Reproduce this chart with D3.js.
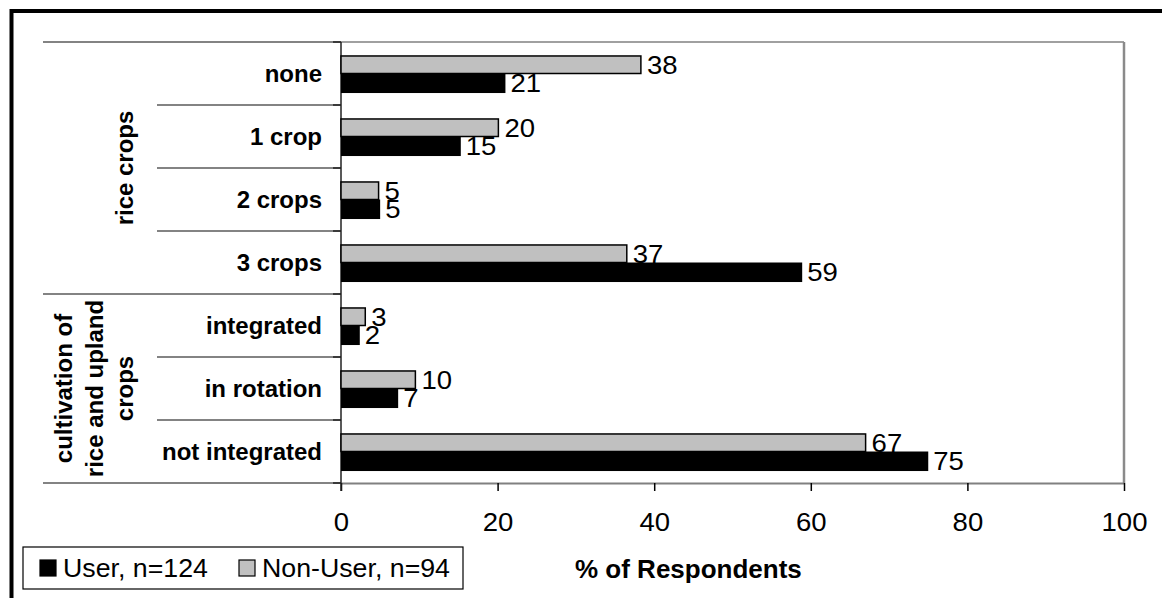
<!DOCTYPE html>
<html>
<head>
<meta charset="utf-8">
<script src="https://cdn.jsdelivr.net/npm/d3@7"></script>
<style>
  body { margin: 0; background: #fff; }
  svg { display: block; font-family: "Liberation Sans", Arial, sans-serif; }
</style>
</head>
<body>
<svg id="chart" width="1162" height="598"></svg>
<script>
// data
var categories = ["none", "1 crop", "2 crops", "3 crops", "integrated", "in rotation", "not integrated"];
var groupLabels = [["rice crops"], ["cultivation of", "rice and upland", "crops"]];
var groupSizes = [4, 3];
var nonUser = [38.3, 20.1, 4.8, 36.5, 3.1, 9.5, 67.0];
var user = [21.0, 15.3, 5.0, 58.9, 2.4, 7.3, 75.0];
var xTicks = [0, 20, 40, 60, 80, 100];
var seriesNames = ["User, n=124", "Non-User, n=94"];

var svg = d3.select("#chart"),
    margin = {top: 42, right: 38, bottom: 115, left: 341},
    W = +svg.attr("width"), H = +svg.attr("height");

var x = d3.scaleLinear().domain([0, 100]).range([margin.left, W - margin.right]);
var y0 = d3.scaleBand().domain(categories).range([margin.top, H - margin.bottom]);
var y1 = d3.scaleBand().domain(["nonuser", "user"])
  .range([0, y0.bandwidth()]).paddingOuter(0.7);

var regSx = 1.08; // the original text is a little stretched sideways

// outer frame
svg.append("rect")
  .attr("x", 11.5).attr("y", 11).attr("width", 1180).attr("height", 620)
  .attr("fill", "none").attr("stroke", "#000").attr("stroke-width", 4);

// plot border (top + right)
svg.append("line")
  .attr("x1", x(0)).attr("x2", x(100)).attr("y1", y0.range()[0]).attr("y2", y0.range()[0])
  .attr("stroke", "#a0a0a0").attr("stroke-width", 2);
svg.append("line")
  .attr("x1", x(100)).attr("x2", x(100)).attr("y1", y0.range()[0]).attr("y2", y0.range()[1])
  .attr("stroke", "#8a8a8a").attr("stroke-width", 2.5);

// category separators on the left
var groupEdges = [0];
groupSizes.forEach(function(s, i) { groupEdges.push(groupEdges[i] + s); });
var step = y0.step();
d3.range(categories.length + 1).forEach(function(i) {
  var yy = y0.range()[0] + i * step;
  svg.append("line")
    .attr("x1", groupEdges.indexOf(i) >= 0 ? 43 : 157).attr("x2", x(0))
    .attr("y1", yy).attr("y2", yy)
    .attr("stroke", "#5a5a5a").attr("stroke-width", 1.5);
  svg.append("line")
    .attr("x1", x(0) - 8).attr("x2", x(0))
    .attr("y1", yy).attr("y2", yy)
    .attr("stroke", "#222").attr("stroke-width", 1.5);
});

// category labels
svg.append("g").selectAll("text")
  .data(categories)
  .enter().append("text")
    .attr("x", 322)
    .attr("y", d => y0(d) + y0.bandwidth() / 2 + 8.5)
    .attr("text-anchor", "end")
    .attr("font-weight", "bold")
    .attr("font-size", 24)
    .text(d => d);

// group labels (rotated)
groupLabels.forEach(function(lines, g) {
  var start = y0.range()[0] + groupEdges[g] * step,
      end = y0.range()[0] + groupEdges[g + 1] * step,
      cy = (start + end) / 2;
  var lastBase = 133, lh = 30.5;
  lines.forEach(function(t, i) {
    var bx = lastBase - (lines.length - 1 - i) * lh;
    svg.append("text")
      .attr("transform", "translate(" + bx + "," + cy + ") rotate(-90)")
      .attr("text-anchor", "middle")
      .attr("font-weight", "bold")
      .attr("font-size", 24)
      .text(t);
  });
});

// x axis
var xAxis = svg.append("g")
  .attr("transform", "translate(0," + y0.range()[1] + ")")
  .call(d3.axisBottom(x).tickValues(xTicks).tickSize(8).tickSizeOuter(0));
xAxis.select(".domain").attr("stroke", "#808080").attr("stroke-width", 2);
xAxis.selectAll(".tick line").attr("stroke", "#000").attr("stroke-width", 1.5);
xAxis.selectAll(".tick text")
  .attr("y", 0).attr("dy", 0)
  .attr("transform", "translate(0,48) scale(" + regSx + ",1)")
  .attr("font-size", 25.5)
  .attr("font-family", "Liberation Sans, Arial, sans-serif")
  .attr("fill", "#000");

// left axis line
svg.append("line")
  .attr("x1", x(0)).attr("x2", x(0))
  .attr("y1", y0.range()[0]).attr("y2", y0.range()[1] + 8)
  .attr("stroke", "#222").attr("stroke-width", 1.5);

function valueLabels(vals, key, dx, dy) {
  svg.append("g").selectAll("text")
    .data(vals)
    .enter().append("text")
      .attr("transform", (d, i) => "translate(" + (x(d) + dx) + "," +
        (y0(categories[i]) + y1(key) + y1.bandwidth() / 2 + dy) + ") scale(" + regSx + ",1)")
      .attr("font-size", 25.5)
      .text(d => Math.round(d));
}

// non-user bars (grey)
svg.append("g").selectAll("rect")
  .data(nonUser)
  .enter().append("rect")
    .attr("x", x(0))
    .attr("y", (d, i) => y0(categories[i]) + y1("nonuser") + 1)
    .attr("width", d => x(d) - x(0))
    .attr("height", y1.bandwidth() - 1)
    .attr("fill", "#c0c0c0")
    .attr("stroke", "#000")
    .attr("stroke-width", 1.5);
valueLabels(nonUser, "nonuser", 6, 10);

// user bars (black)
svg.append("g").selectAll("rect")
  .data(user)
  .enter().append("rect")
    .attr("x", x(0))
    .attr("y", (d, i) => y0(categories[i]) + y1("user"))
    .attr("width", d => x(d) - x(0))
    .attr("height", y1.bandwidth() + 1)
    .attr("fill", "#000");
valueLabels(user, "user", 5, 9);

// axis title
svg.append("text")
  .attr("x", 575).attr("y", 578)
  .attr("font-weight", "bold")
  .attr("font-size", 26)
  .text("% of Respondents");

// legend
var leg = svg.append("g");
leg.append("rect")
  .attr("x", 23).attr("y", 547).attr("width", 440).attr("height", 42)
  .attr("fill", "#fff").attr("stroke", "#000").attr("stroke-width", 1.2);
var legX = [40, 239], legFill = ["#000", "#c0c0c0"];
seriesNames.forEach(function(name, i) {
  leg.append("rect")
    .attr("x", legX[i]).attr("y", 560).attr("width", 16).attr("height", 16)
    .attr("fill", legFill[i]).attr("stroke", "#000").attr("stroke-width", 1.2);
  leg.append("text")
    .attr("transform", "translate(" + (legX[i] + 23) + ",577) scale(1.07,1)")
    .attr("font-size", 25)
    .text(name);
});
</script>
</body>
</html>
